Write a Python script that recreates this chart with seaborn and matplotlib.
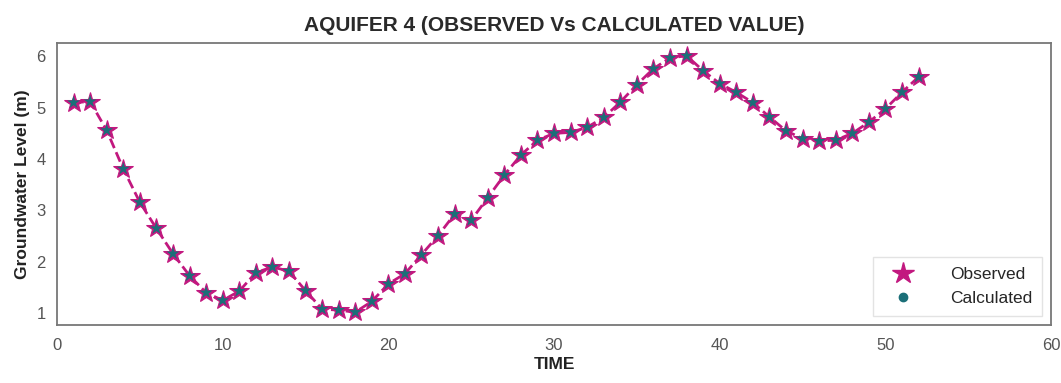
import numpy as np
import pandas as pd
import matplotlib
matplotlib.use("Agg")
import matplotlib.pyplot as plt
from matplotlib.lines import Line2D
import seaborn as sns

time = list(range(1, 53))
observed = [5.10, 5.12, 4.56, 3.81, 3.16, 2.65, 2.16, 1.73, 1.40, 1.25,
            1.43, 1.79, 1.90, 1.82, 1.44, 1.08, 1.06, 1.02, 1.23, 1.57,
            1.77, 2.14, 2.51, 2.93, 2.81, 3.25, 3.69, 4.08, 4.37, 4.50,
            4.52, 4.62, 4.81, 5.11, 5.45, 5.76, 5.97, 6.01, 5.72, 5.47,
            5.30, 5.10, 4.82, 4.55, 4.40, 4.35, 4.37, 4.50, 4.72, 4.98,
            5.30, 5.60]
calculated = list(observed)

df = pd.DataFrame({"TIME": time, "Observed": observed, "Calculated": calculated})

sns.set_theme(style="white")
plt.rcParams['font.family'] = ['Liberation Sans', 'DejaVu Sans']

fig = plt.figure(figsize=(10.61, 3.83), dpi=100)
ax = fig.add_axes([0.0537, 0.1514, 0.9370, 0.7363])

mag = "#c2187f"
teal = "#1b6f78"

sns.lineplot(data=df, x="TIME", y="Observed", ax=ax, color=mag, linestyle="--",
             linewidth=2, marker="*", markersize=15, markerfacecolor=mag,
             markeredgecolor=mag, label="_nolegend_")
sns.scatterplot(data=df, x="TIME", y="Calculated", ax=ax, color=teal, marker="*",
                s=95, edgecolor="none", zorder=5, label="_nolegend_")

ax.set_xlim(0, 60)
ax.set_xticks([0, 10, 20, 30, 40, 50, 60])
ax.set_yticks([1, 2, 3, 4, 5, 6])
ax.tick_params(axis="both", labelsize=12, colors="#555555", length=0)
ax.tick_params(axis="x", pad=9)
ax.tick_params(axis="y", pad=8)
for s in ax.spines.values():
    s.set_color("#777777")
    s.set_linewidth(1.3)

ax.set_title("AQUIFER 4 (OBSERVED Vs CALCULATED VALUE)", fontsize=15,
             fontweight="bold", color="#2a2a2a", pad=9)
ax.set_xlabel("TIME", fontsize=12.5, fontweight="bold", color="#222222", labelpad=3)
ax.set_ylabel("Groundwater Level (m)", fontsize=12.5, fontweight="bold",
              color="#222222", labelpad=5)

handles = [Line2D([], [], linestyle="none", marker="*", markersize=16, color=mag),
           Line2D([], [], linestyle="none", marker="o", markersize=6, color=teal)]
ax.legend(handles, ["Observed", "Calculated"], loc="lower right", fontsize=12.5,
          frameon=True, edgecolor="#dddddd", fancybox=False, handletextpad=1.6,
          borderpad=0.6, borderaxespad=0.5, handlelength=2.2)

fig.savefig("out.png", dpi=100)
